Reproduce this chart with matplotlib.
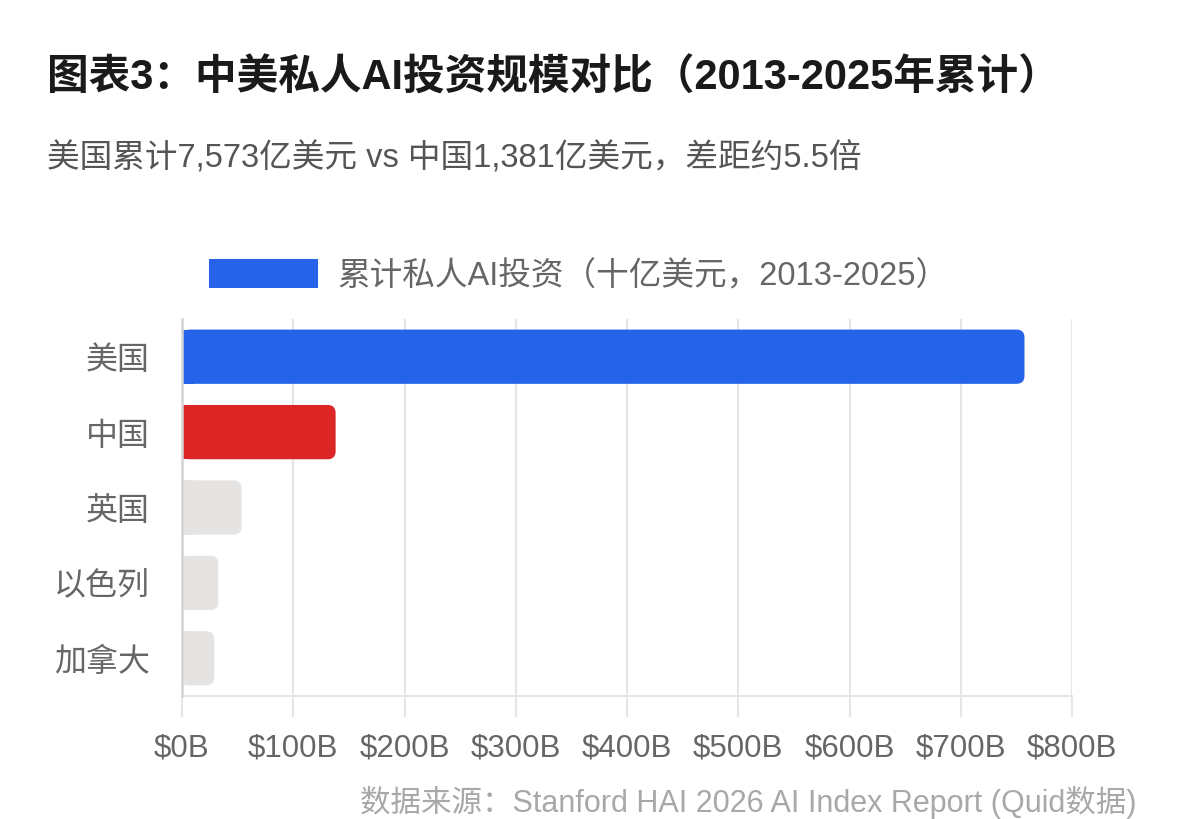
import matplotlib
matplotlib.use("Agg")
import matplotlib.pyplot as plt
from matplotlib.patches import FancyBboxPatch, Rectangle, Patch

FAM = ['Liberation Sans', 'Noto Sans CJK SC', 'DejaVu Sans']
plt.rcParams['font.family'] = FAM

# ---- data ----
categories = ["美国", "中国", "英国", "以色列", "加拿大"]
values = [757.3, 138.1, 53.6, 32.6, 29.0]
bar_colors = ["#2563EB", "#DC2626", "#E5E4E2", "#E5E4E2", "#E5E4E2"]
x_ticks = [0, 100, 200, 300, 400, 500, 600, 700, 800]
x_tick_labels = ["$0B", "$100B", "$200B", "$300B", "$400B", "$500B", "$600B", "$700B", "$800B"]
title = "图表3：中美私人AI投资规模对比（2013-2025年累计）"
subtitle = "美国累计7,573亿美元 vs 中国1,381亿美元，差距约5.5倍"
legend_label = "累计私人AI投资（十亿美元，2013-2025）"
source = "数据来源：Stanford HAI 2026 AI Index Report (Quid数据)"

W, H = 1190, 820
fig = plt.figure(figsize=(W / 100, H / 100), dpi=100)
fig.patch.set_facecolor("white")

ax_l, ax_r, ax_t, ax_b = 182, 1072, 320, 697
ax = fig.add_axes([ax_l / W, 1 - ax_b / H, (ax_r - ax_l) / W, (ax_b - ax_t) / H])

ax.set_xlim(0, 800)
ax.set_ylim(len(categories) - 0.5, -0.5)

bar_h = 0.72
ax_w_px = ax_r - ax_l
ax_h_px = ax_b - ax_t
x_per_px = 800 / ax_w_px
y_per_px = len(categories) / ax_h_px
radius_px = 8
r = radius_px * x_per_px
aspect = y_per_px / x_per_px

for i, (v, c) in enumerate(zip(values, bar_colors)):
    p = FancyBboxPatch((0, i - bar_h / 2), v, bar_h,
                       boxstyle=f"round,pad=0,rounding_size={r}",
                       mutation_aspect=aspect, facecolor=c, edgecolor="none", zorder=3)
    ax.add_patch(p)
    ax.add_patch(Rectangle((0, i - bar_h / 2), min(v / 2, r * 1.5), bar_h,
                           facecolor=c, edgecolor="none", zorder=3))

ax.set_xticks(x_ticks)
ax.set_xticklabels(x_tick_labels)
ax.set_yticks(range(len(categories)))
ax.set_yticklabels(categories)

ax.grid(axis="x", color="#E6E6E6", linewidth=1.5, zorder=0)
ax.grid(axis="y", visible=False)
ax.set_axisbelow(True)

for s in ["top", "right"]:
    ax.spines[s].set_visible(False)
ax.spines["bottom"].set_color("#E6E6E6")
ax.spines["bottom"].set_linewidth(1.5)
ax.spines["left"].set_color("#D4D4D4")
ax.spines["left"].set_linewidth(1.8)
ax.spines["left"].set_zorder(4)

ax.tick_params(axis="x", length=15, width=1.5, color="#E6E6E6", pad=11,
               labelsize=22.5, labelcolor="#666666")
ax.tick_params(axis="y", length=0, pad=23, labelsize=23, labelcolor="#666666")

# legend
handle = Patch(facecolor="#2563EB", edgecolor="none", label=legend_label)
leg = fig.legend(handles=[handle], loc="center", bbox_to_anchor=(578.5 / W, 1 - 276 / H),
                 frameon=False, fontsize=23.5, handlelength=3.35, handleheight=1.0,
                 handletextpad=0.58, borderpad=0, labelcolor="#666666")

fig.text(47 / W, 1 - 78 / H, title, fontsize=30, fontweight="bold", color="#1A1A1A",
         ha="left", va="center")
fig.text(47 / W, 1 - 158 / H, subtitle, fontsize=23.5, color="#555555",
         ha="left", va="center")
fig.text(1136 / W, 1 - 819 / H, source, fontsize=22, color="#A8A8A8",
         ha="right", va="bottom")

fig.savefig("out.png", dpi=100, facecolor="white")
